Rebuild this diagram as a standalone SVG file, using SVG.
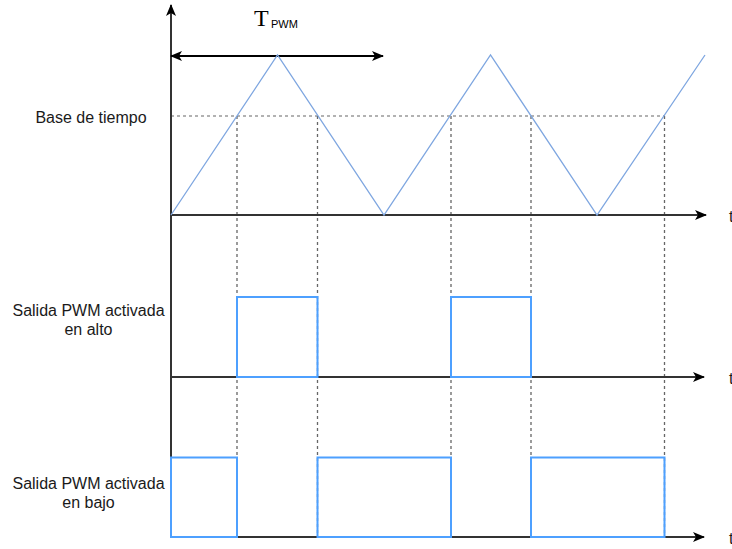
<svg xmlns="http://www.w3.org/2000/svg" width="732" height="549" viewBox="0 0 732 549">
  <style>
    .axis { stroke: #333333; stroke-width: 2; fill: none; }
    .guide { stroke: #666666; stroke-width: 1.3; stroke-dasharray: 3 3; fill: none; }
    .guide-h { stroke: #999999; stroke-width: 1.5; stroke-dasharray: 3 3; fill: none; }
    .carrier { stroke: #7EA6E0; stroke-width: 1.3; fill: none; }
    .pulse { stroke: #4DA0FF; stroke-width: 2; fill: none; }
    .label { font-family: "Liberation Sans", Arial, sans-serif; font-size: 16px; fill: #1a1a1a; }
  </style>
  <defs>
    <marker id="arrow" viewBox="0 0 12 10" refX="11" refY="5" markerWidth="12" markerHeight="10" markerUnits="userSpaceOnUse" orient="auto-start-reverse">
      <path d="M0,0 L12,5 L0,10 L3,5 Z" fill="#000"/>
    </marker>
  </defs>

  <!-- labels -->
  <g id="label-base">
    <text class="label" x="91" y="123" text-anchor="middle">Base de tiempo</text>
  </g>
  <g id="label-alto">
    <text class="label" x="88.5" y="316" text-anchor="middle">Salida PWM activada</text>
    <text class="label" x="88.5" y="335" text-anchor="middle">en alto</text>
  </g>
  <g id="label-bajo">
    <text class="label" x="88.5" y="489" text-anchor="middle">Salida PWM activada</text>
    <text class="label" x="88.5" y="508" text-anchor="middle">en bajo</text>
  </g>
  <g id="label-tpwm">
    <text x="254" y="26" font-family="'Liberation Serif', 'Times New Roman', serif" font-size="24" fill="#000">T</text>
    <text x="271" y="28" font-family="'Liberation Sans', Arial, sans-serif" font-size="11" fill="#000">PWM</text>
  </g>
  <g id="label-t">
    <text class="label" x="729" y="222">t</text>
    <text class="label" x="729" y="384">t</text>
    <text class="label" x="729" y="544">t</text>
  </g>

  <g id="connectors">
    <!-- dashed guides: carrier threshold and crossing instants -->
    <path class="guide-h" d="M171,116 H665"/>
    <path class="guide" d="M237,116 V537 M317.5,116 V537 M451,116 V537 M531,116 V537 M664.5,116 V537"/>

    <!-- axes -->
    <path class="axis" d="M171,537 V5" marker-end="url(#arrow)"/>
    <path class="axis" d="M171,215 H706" marker-end="url(#arrow)"/>
    <path class="axis" d="M171,377 H704" marker-end="url(#arrow)"/>
    <path class="axis" d="M171,537 H704" marker-end="url(#arrow)"/>

    <!-- period span -->
    <path d="M171,56 H383" stroke="#000" stroke-width="2" fill="none" marker-start="url(#arrow)" marker-end="url(#arrow)"/>
  </g>

  <!-- triangular carrier -->
  <g id="carrier">
    <path class="carrier" d="M171,215 L277.5,55 L384,215 L490.5,55 L597,215 L705,55"/>
  </g>

  <!-- active-high output -->
  <g id="pwm-alto">
    <path class="pulse" d="M237,377 V297 H317.5 V377 Z"/>
    <path class="pulse" d="M451,377 V297 H531 V377 Z"/>
  </g>

  <!-- active-low output -->
  <g id="pwm-bajo">
    <path class="pulse" d="M171,537 V457.5 H237 V537 Z"/>
    <path class="pulse" d="M317.5,537 V457.5 H451 V537 Z"/>
    <path class="pulse" d="M531,537 V457.5 H664.5 V537 Z"/>
  </g>
</svg>
